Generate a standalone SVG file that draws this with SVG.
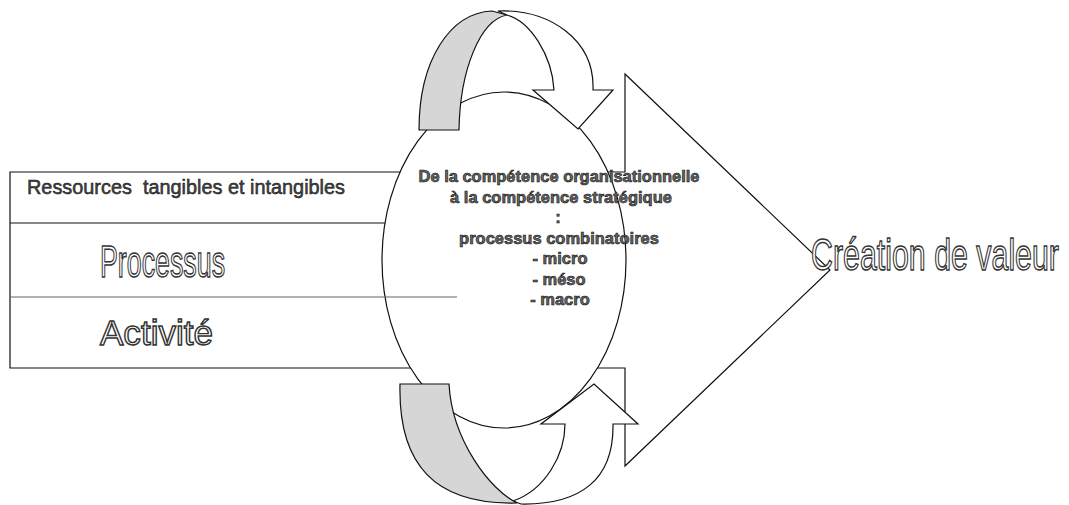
<svg xmlns="http://www.w3.org/2000/svg" width="1069" height="505" viewBox="0 0 1069 505">
<style>
.ln{fill:#fff;stroke:#111;stroke-width:1.2;stroke-linejoin:miter}
.gray{fill:#d6d6d6;stroke:#111;stroke-width:1.2}
.outline{font-family:"Liberation Sans",Arial,sans-serif;fill:#fff;stroke:#333;stroke-width:1.5}
.center{font-family:"Liberation Sans",Arial,sans-serif;font-weight:bold;font-size:16.5px;fill:#666;stroke:#111;stroke-width:0.6;text-anchor:middle}
.plain{font-family:"Liberation Sans",Arial,sans-serif;fill:#444;stroke:#111;stroke-width:0.5}
</style>
<rect width="1069" height="505" fill="#fff"/>
<g id="block-arrow">
<polygon class="ln" points="10,172 625,172 625,74 830,270 625,466 625,368 10,368"/>
<line x1="10" y1="223" x2="400" y2="223" stroke="#111" stroke-width="1.2"/>
<text class="plain" x="27" y="193.5" font-size="20" textLength="318" lengthAdjust="spacingAndGlyphs" xml:space="preserve">Ressources  tangibles et intangibles</text>
<text class="outline" transform="translate(100,277) scale(0.609,1)" x="0" y="0" font-size="44">Processus</text>
<text class="outline" transform="translate(100,345) scale(0.974,1)" x="0" y="0" font-size="36">Activité</text>
<text class="outline" transform="translate(811,270) scale(0.6745,1)" x="0" y="0" font-size="45">Création de valeur</text>
</g>
<g id="ellipse-node">
<ellipse class="ln" cx="504" cy="260" rx="122" ry="168"/>
</g>
<g id="divider">
<line x1="10" y1="297" x2="457" y2="297" stroke="#666" stroke-width="1.2"/>
</g>
<g id="connectors">
<g id="top-cycle-arrow">
<path class="ln" d="M498,11 C550,9 595,40 593,90 L613,90 L578,129 L533,90 L554,90 C552,55 530,21 507,15 Z"/>
<path class="gray" d="M419,130 C419,60 450,13 492,11 L507,15 C480,20 460,70 459,130 Z"/>
</g>
<g id="bottom-cycle-arrow">
<path class="ln" d="M565,424 L541,424 L594,384 L638,424 L613,424 C614,480 580,505 521,504 L513,501 C545,490 565,455 565,424 Z"/>
<path class="gray" d="M400,384 L449,384 C452,440 490,490 517,503 C435,505 398,465 400,384 Z"/>
</g>
</g>
<g id="center-text">
<text class="center" x="559" y="182" textLength="281" lengthAdjust="spacingAndGlyphs">De la compétence organisationnelle</text>
<text class="center" x="561" y="202.5">à la compétence stratégique</text>
<text class="center" x="558" y="223">:</text>
<text class="center" x="559" y="243.5">processus combinatoires</text>
<text class="center" x="560" y="264">- micro</text>
<text class="center" x="559" y="284.5">- méso</text>
<text class="center" x="560" y="305">- macro</text>
</g>
</svg>
